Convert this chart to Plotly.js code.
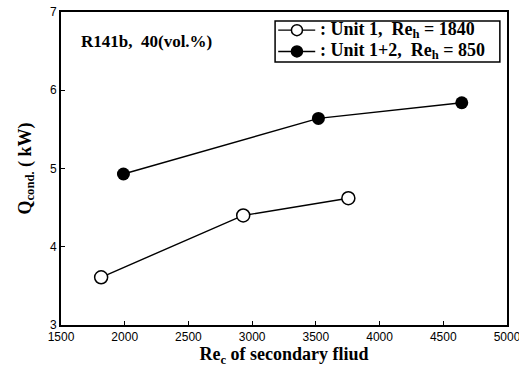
<!DOCTYPE html>
<html><head><meta charset="utf-8">
<script src="https://cdn.plot.ly/plotly-3.0.1.min.js"></script>
<style>html,body{margin:0;padding:0;background:#fff}#chart{width:519px;height:371px}</style>
</head><body><div id="chart"></div>
<script>
const unit1Re = [1815, 2930, 3755];
const unit1Q = [3.61, 4.40, 4.62];
const unit12Re = [1990, 3520, 4645];
const unit12Q = [4.93, 5.64, 5.84];
const seriesNames = [": Unit 1,  Re<sub>h</sub> = 1840", ": Unit 1+2,  Re<sub>h</sub> = 850"];
const xTicks = [1500, 2000, 2500, 3000, 3500, 4000, 4500, 5000];
const yTicks = [3, 4, 5, 6, 7];

const serif = "Liberation Serif, Times New Roman, serif";
const sans = "Liberation Sans, Arial, sans-serif";

const traces = [
  {x: unit1Re, y: unit1Q, name: seriesNames[0], mode: "lines+markers", showlegend: false,
   line: {color: "#000", width: 1.4},
   marker: {symbol: "circle", size: 13, color: "#fff", line: {width: 1.5, color: "#000"}}},
  {x: unit12Re, y: unit12Q, name: seriesNames[1], mode: "lines+markers", showlegend: false,
   line: {color: "#000", width: 1.4},
   marker: {symbol: "circle", size: 13, color: "#000"}}
];

const axisCommon = {showgrid: false, zeroline: false, showline: true, mirror: true,
  linecolor: "#000", linewidth: 2, ticks: "inside", ticklen: 4, tickcolor: "#000",
  ticklabeloverflow: "allow",
  tickfont: {family: sans, size: 12, color: "#000"}};

// hand-built legend (box, symbol lines, markers, text)
const lg = {x0: 0.480, x1: 0.984, y0: 0.840, y1: 0.971, rows: [0.942, 0.874],
  lineX0: 0.487, lineX1: 0.570, markX: 0.529, textX: 0.578};
const shapes = [
  {type: "rect", xref: "paper", yref: "paper", x0: lg.x0, x1: lg.x1, y0: lg.y0, y1: lg.y1,
   line: {color: "#000", width: 1.5}, fillcolor: "#fff", layer: "above"}
];
const annotations = [{xref: "paper", yref: "paper", x: 0.04, y: 0.905, xanchor: "left", yanchor: "middle",
    showarrow: false, text: "<b>R141b,  40(vol.%)</b>", font: {family: serif, size: 17, color: "#000"}}];
traces.forEach((t, i) => {
  const yy = lg.rows[i];
  shapes.push({type: "line", xref: "paper", yref: "paper", x0: lg.lineX0, x1: lg.lineX1, y0: yy, y1: yy,
    line: {color: "#000", width: 1.4}, layer: "above"});
  shapes.push({type: "circle", xref: "paper", yref: "paper", xsizemode: "pixel", ysizemode: "pixel",
    xanchor: lg.markX, yanchor: yy, x0: -5.5, x1: 5.5, y0: -5.5, y1: 5.5,
    fillcolor: t.marker.color, line: {color: "#000", width: 1.5}, layer: "above"});
  annotations.push({xref: "paper", yref: "paper", x: lg.textX, y: yy, xanchor: "left", yanchor: "middle",
    height: 18, valign: "middle", borderpad: 0,
    showarrow: false, text: "<b>" + t.name + "</b>", font: {family: serif, size: 18, color: "#000"}});
});

const layout = {
  width: 519, height: 371,
  margin: {l: 61, r: 12, t: 12, b: 46},
  paper_bgcolor: "#fff", plot_bgcolor: "#fff",
  showlegend: false,
  xaxis: Object.assign({}, axisCommon, {range: [1500, 5000], tickvals: xTicks,
    title: {text: "<b>Re<sub>c</sub> of secondary fliud</b>", font: {family: serif, size: 18, color: "#000"}, standoff: 2}}),
  yaxis: Object.assign({}, axisCommon, {range: [3, 7], tickvals: yTicks,
    title: {text: "<b>Q<sub>cond.</sub> ( kW)</b>", font: {family: serif, size: 18, color: "#000"}, standoff: 14}}),
  shapes: shapes,
  annotations: annotations
};

Plotly.newPlot("chart", traces, layout, {displayModeBar: false, staticPlot: true});
</script>
</body></html>
